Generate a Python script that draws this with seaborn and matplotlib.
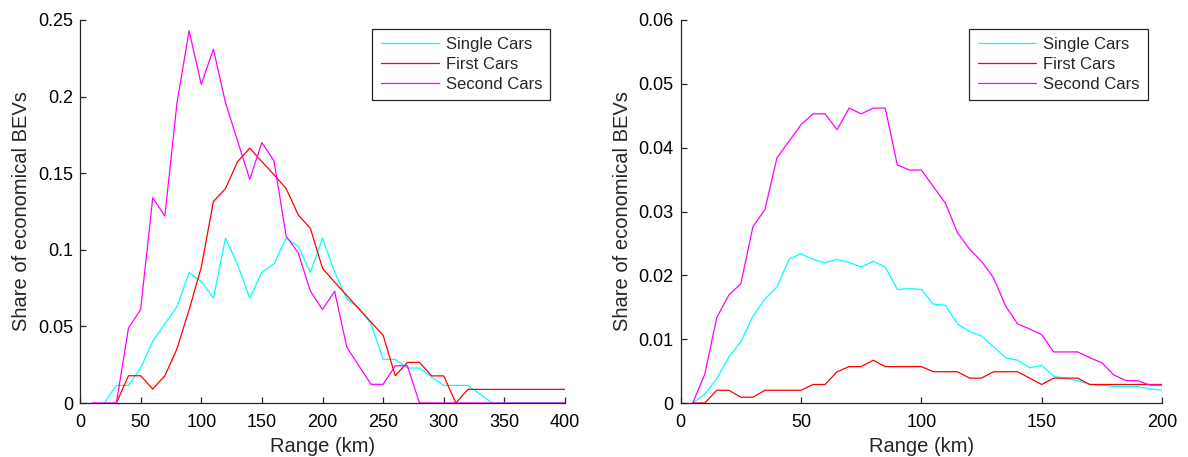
import matplotlib
matplotlib.use("Agg")
import matplotlib.pyplot as plt
import numpy as np
import pandas as pd
import seaborn as sns

# ---- data: range in km vs. share of economical BEVs ----
series_names = ["Single Cars", "First Cars", "Second Cars"]
series_colors = {"Single Cars": "#00ffff", "First Cars": "#ff0000", "Second Cars": "#ff00ff"}

# left panel (10 km steps)
left_single_km = list(range(20, 401, 10))
left_single = [0, 0.0115, 0.0115, 0.0228, 0.0402, 0.0517, 0.063, 0.0852, 0.0793, 0.0685,
               0.1076, 0.0902, 0.0685, 0.0852, 0.0909, 0.1076, 0.1022, 0.0852, 0.1076, 0.0854,
               0.068, 0.062, 0.0518, 0.0285, 0.0285, 0.0228, 0.0228, 0.0172, 0.0115, 0.0115,
               0.0115, 0.0057, 0, 0, 0, 0, 0, 0, 0]

left_first_km = list(range(30, 401, 10))
left_first = [0, 0.0178, 0.0178, 0.0091, 0.0178, 0.0354, 0.0609, 0.0885, 0.1315, 0.140,
              0.1576, 0.1663, 0.1576, 0.149, 0.140, 0.1228, 0.114, 0.088, 0.0789, 0.0702,
              0.0615, 0.0528, 0.0442, 0.0178, 0.0265, 0.0265, 0.0177, 0.0177, 0, 0.0089,
              0.0089, 0.0089, 0.0089, 0.0089, 0.0089, 0.0089, 0.0089, 0.0089]

left_second_km = list(range(10, 401, 10))
left_second = [0, 0, 0, 0.049, 0.061, 0.134, 0.122, 0.196, 0.243, 0.208,
               0.231, 0.196, 0.171, 0.146, 0.170, 0.158, 0.109, 0.098, 0.073, 0.061,
               0.073, 0.0365, 0.0243, 0.0122, 0.0122, 0.0243, 0.0243, 0, 0, 0,
               0, 0, 0, 0, 0, 0, 0, 0, 0, 0]

# right panel (5 km steps)
right_km = list(range(5, 201, 5))
right_single = [0, 0.0014, 0.0038, 0.0072, 0.0096, 0.0136, 0.0163, 0.0182, 0.0225, 0.0234,
                0.0225, 0.0220, 0.0225, 0.0220, 0.0213, 0.0222, 0.0213, 0.0178, 0.0179, 0.0178,
                0.0155, 0.0153, 0.0124, 0.0112, 0.0105, 0.0088, 0.0071, 0.0067, 0.0055, 0.0059,
                0.0042, 0.0038, 0.0035, 0.0029, 0.0028, 0.0026, 0.0026, 0.0026, 0.0022, 0.0020]
right_first = [0, 0, 0.002, 0.002, 0.0009, 0.0009, 0.002, 0.002, 0.002, 0.002,
               0.0029, 0.0029, 0.0049, 0.0057, 0.0057, 0.0067, 0.0057, 0.0057, 0.0057, 0.0057,
               0.0049, 0.0049, 0.0049, 0.0039, 0.0039, 0.0049, 0.0049, 0.0049, 0.0039, 0.0029,
               0.0039, 0.0039, 0.0039, 0.0029, 0.0029, 0.0029, 0.0029, 0.0029, 0.0029, 0.0029]
right_second = [0, 0.0045, 0.0134, 0.0169, 0.0187, 0.0276, 0.0303, 0.0384, 0.0410, 0.0436,
                0.0453, 0.0453, 0.0428, 0.0462, 0.0453, 0.0462, 0.0462, 0.0373, 0.0365, 0.0365,
                0.0339, 0.0313, 0.0267, 0.0241, 0.0222, 0.0196, 0.0152, 0.0124, 0.0116, 0.0107,
                0.0080, 0.0080, 0.0080, 0.0071, 0.0063, 0.0044, 0.0035, 0.0035, 0.0028, 0.0028]

left_xticks = [0, 50, 100, 150, 200, 250, 300, 350, 400]
left_yticks = [0, 0.05, 0.1, 0.15, 0.2, 0.25]
left_yticklabels = ["0", "0.05", "0.1", "0.15", "0.2", "0.25"]
right_xticks = [0, 50, 100, 150, 200]
right_yticks = [0, 0.01, 0.02, 0.03, 0.04, 0.05, 0.06]
right_yticklabels = ["0", "0.01", "0.02", "0.03", "0.04", "0.05", "0.06"]


def long_frame(parts):
    frames = []
    for name, km, vals in parts:
        frames.append(pd.DataFrame({"Range": km, "Share": vals, "Group": name}))
    return pd.concat(frames, ignore_index=True)


left_df = long_frame([
    ("Single Cars", left_single_km, left_single),
    ("First Cars", left_first_km, left_first),
    ("Second Cars", left_second_km, left_second),
])
right_df = long_frame([
    ("Single Cars", right_km, right_single),
    ("First Cars", right_km, right_first),
    ("Second Cars", right_km, right_second),
])

sns.set_style("ticks")
plt.rcParams["font.family"] = ["Liberation Sans", "DejaVu Sans"]
plt.rcParams["axes.edgecolor"] = "#262626"
plt.rcParams["axes.linewidth"] = 0.9

fig = plt.figure(figsize=(11.88, 4.57), dpi=100)
ax_l = fig.add_axes([80 / 1188, 1 - 403 / 457, 485 / 1188, 383 / 457])
ax_r = fig.add_axes([680.7 / 1188, 1 - 403 / 457, 481.3 / 1188, 383 / 457])

panels = [
    (ax_l, left_df, (0, 400), (0, 0.25), left_xticks, left_yticks, left_yticklabels),
    (ax_r, right_df, (0, 200), (0, 0.06), right_xticks, right_yticks, right_yticklabels),
]

for ax, df, xlim, ylim, xt, yt, ytl in panels:
    sns.lineplot(data=df, x="Range", y="Share", hue="Group", hue_order=series_names,
                 palette=series_colors, linewidth=0.9, ax=ax, estimator=None, sort=False)
    ax.set_xlim(*xlim)
    ax.set_ylim(*ylim)
    ax.set_xticks(xt)
    ax.set_xticklabels([str(v) for v in xt])
    ax.set_yticks(yt)
    ax.set_yticklabels(ytl)
    ax.tick_params(direction="in", length=4.5, width=0.9, labelsize=13, pad=5,
                   colors="#262626", labelcolor="black")
    ax.tick_params(axis="x", pad=8)
    ax.set_xlabel("Range (km)", fontsize=14.5, labelpad=4)
    ax.set_ylabel("Share of economical BEVs", fontsize=14.5, labelpad=5)
    sns.despine(ax=ax)
    handles, labels = ax.get_legend_handles_labels()
    leg = ax.legend(handles, labels, loc="upper right", bbox_to_anchor=(0.97, 0.977),
                    fontsize=12, frameon=True, fancybox=False, edgecolor="#262626",
                    framealpha=1, handlelength=3.5, handletextpad=0.4,
                    labelspacing=0.3, borderpad=0.5, borderaxespad=0)
    leg.get_frame().set_linewidth(0.9)

fig.savefig("out.png", dpi=100)
